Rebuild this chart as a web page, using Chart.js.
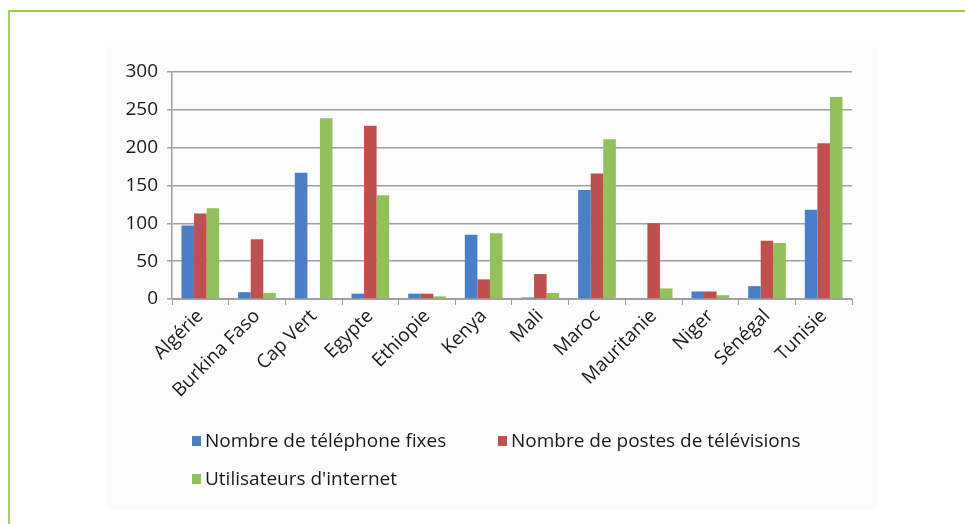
<!DOCTYPE html>
<html>
<head>
<meta charset="utf-8">
<script src="https://cdn.jsdelivr.net/npm/chart.js@4"></script>
<style>
  html, body { margin: 0; padding: 0; background: #fff; }
  #wrap { position: relative; width: 965px; height: 524px; overflow: hidden; font-family: "Open Sans", sans-serif; }
  #frame { position: absolute; left: 8px; top: 10px; width: 957px; height: 514px; box-sizing: border-box;
           border-top: 2px solid #9dcb45; border-left: 2px solid #a6cf62; }
  #panel { position: absolute; left: 107px; top: 47px; width: 770px; height: 463px; background: #fcfcfc; }
  #chart { position: absolute; left: 0; top: 0; }
  .item { position: absolute; white-space: nowrap; font-size: 19px; line-height: 26px; color: #1a1a1a; }
  .box { display: inline-block; width: 9px; height: 10px; margin-right: 4px; vertical-align: 1px; }
</style>
</head>
<body>
<div id="wrap">
  <div id="frame"></div>
  <div id="panel"></div>
  <canvas id="chart" width="965" height="524"></canvas>
  <div id="legend"></div>
</div>
<script>
const categories = ['Algérie', 'Burkina Faso', 'Cap Vert', 'Egypte', 'Ethiopie', 'Kenya',
  'Mali', 'Maroc', 'Mauritanie', 'Niger', 'Sénégal', 'Tunisie'];
const telephonesFixes = [97, 9, 167, 7, 7, 85, 2, 144, 0, 10, 17, 118];
const postesTelevision = [113, 79, 0, 229, 7, 26, 33, 166, 100, 10, 77, 206];
const utilisateursInternet = [120, 8, 239, 137, 3.5, 87, 8, 211, 14, 5, 74, 267];
const yTicks = [0, 50, 100, 150, 200, 250, 300];
const seriesNames = ['Nombre de téléphone fixes', 'Nombre de postes de télévisions', "Utilisateurs d'internet"];
const seriesColors = ['#4a7ec6', '#c0504d', '#92c05a'];

const font = { family: '"Open Sans", sans-serif', size: 19 };
const axisGray = '#a0a0a0';

const datasets = [telephonesFixes, postesTelevision, utilisateursInternet].map((data, i) => ({
  label: seriesNames[i],
  data,
  backgroundColor: seriesColors[i],
  borderWidth: 0,
  barPercentage: 1,
  categoryPercentage: 0.665,
}));

new Chart(document.getElementById('chart'), {
  type: 'bar',
  data: { labels: categories, datasets },
  options: {
    responsive: false,
    animation: false,
    layout: { padding: { left: 100, right: 113, top: 72, bottom: 100 } },
    plugins: { legend: { display: false }, tooltip: { enabled: false } },
    scales: {
      x: {
        grid: { offset: true, drawOnChartArea: false, tickLength: 6, color: axisGray },
        border: { color: axisGray },
        ticks: { font, color: '#1a1a1a', maxRotation: 45, minRotation: 45, autoSkip: false, padding: 0 },
        afterFit(s) { s.height = 125; },
      },
      y: {
        min: 0,
        max: 300,
        afterBuildTicks(s) { s.ticks = yTicks.map(v => ({ value: v })); },
        grid: { color: axisGray, lineWidth: 1.5, tickLength: 5 },
        border: { color: axisGray, width: 1.5 },
        ticks: { font, color: '#1a1a1a', padding: 9 },
        afterFit(s) { s.width = 72; },
      },
    },
  },
});

// legend laid out like the original: two items on the first row, one on the second
const legendPos = [[192, 427], [498, 427], [192, 465]];
const legendEl = document.getElementById('legend');
seriesNames.forEach((name, i) => {
  const item = document.createElement('div');
  item.className = 'item';
  item.style.left = legendPos[i][0] + 'px';
  item.style.top = legendPos[i][1] + 'px';
  const box = document.createElement('span');
  box.className = 'box';
  box.style.background = seriesColors[i];
  item.appendChild(box);
  item.appendChild(document.createTextNode(name));
  legendEl.appendChild(item);
});
</script>
</body>
</html>
